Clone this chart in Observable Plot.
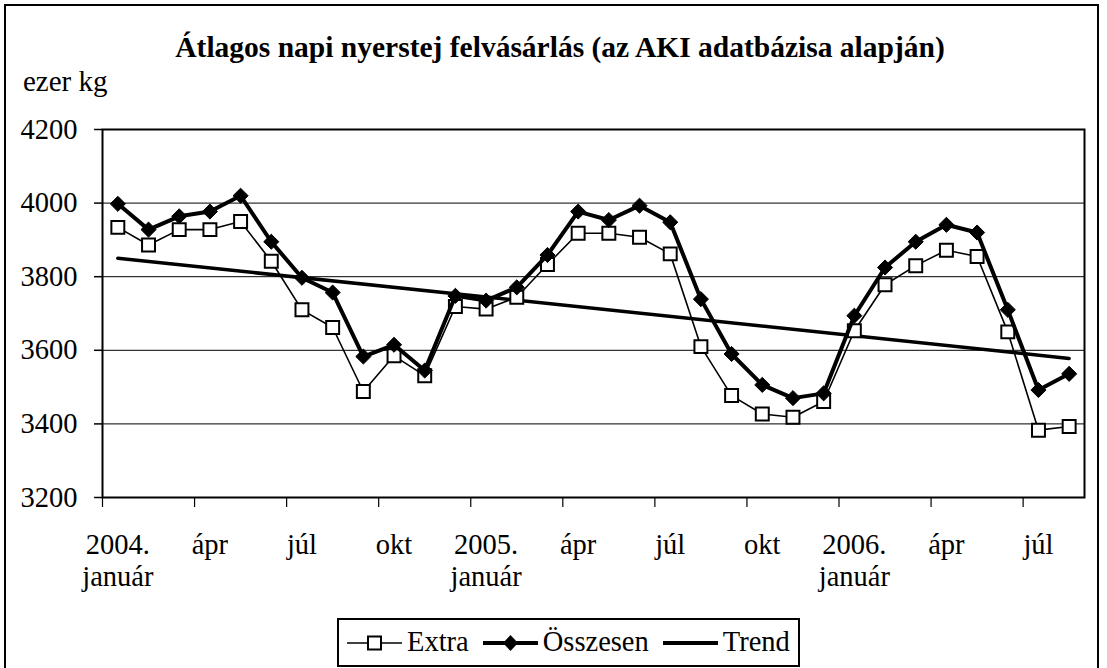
<!DOCTYPE html>
<html>
<head>
<meta charset="utf-8">
<script src="https://cdn.jsdelivr.net/npm/d3@7"></script>
<script src="https://cdn.jsdelivr.net/npm/@observablehq/plot@0.6"></script>
<style>
  html, body { margin: 0; padding: 0; background: #fff; overflow: hidden; }
  #wrap { position: relative; width: 1107px; height: 668px; overflow: hidden;
          font-family: "Liberation Serif", Tinos, "Nimbus Roman", "DejaVu Serif", serif; color: #000; }
  #border { position: absolute; left: 4px; top: 4px; width: 1095px; height: 690px;
            border: 2.5px solid #000; box-sizing: border-box; }
  #title { position: absolute; left: 0; width: 1120px; top: 33px; text-align: center;
           font-weight: bold; font-size: 29.5px; line-height: 1; white-space: nowrap; }
  #unit { position: absolute; left: 23px; top: 67px; font-size: 29px; line-height: 1; }
  #chart { position: absolute; left: 0; top: 0; }
  #legend { position: absolute; left: 337px; top: 618px; height: 49px; box-sizing: border-box;
            border: 2px solid #000; display: flex; align-items: center; padding: 0 8px 0 8px;
            font-size: 28.5px; line-height: 1; background: #fff; }
  #legend .item { display: flex; align-items: center; margin-right: 14px; }
  #legend .item:last-child { margin-right: 0; }
  #legend svg { margin-right: 5px; }
</style>
</head>
<body>
<div id="wrap">
  <div id="border"></div>
  <div id="title">Átlagos napi nyerstej felvásárlás (az AKI adatbázisa alapján)</div>
  <div id="unit">ezer kg</div>
  <div id="chart"></div>
  <div id="legend"></div>
</div>
<script>
// ---- data ----
const months = [
  "2004-01","2004-02","2004-03","2004-04","2004-05","2004-06","2004-07","2004-08",
  "2004-09","2004-10","2004-11","2004-12",
  "2005-01","2005-02","2005-03","2005-04","2005-05","2005-06","2005-07","2005-08",
  "2005-09","2005-10","2005-11","2005-12",
  "2006-01","2006-02","2006-03","2006-04","2006-05","2006-06","2006-07","2006-08"
];
const extra = [3934, 3886, 3928, 3928, 3950, 3842, 3710, 3662, 3488, 3585, 3531, 3719,
               3712, 3744, 3833, 3918, 3918, 3907, 3862, 3610, 3477, 3427, 3418, 3461,
               3653, 3778, 3830, 3872, 3855, 3650, 3383, 3393];
const osszesen = [3998, 3928, 3964, 3977, 4020, 3895, 3797, 3757, 3583, 3615, 3545, 3748,
                  3735, 3771, 3859, 3977, 3954, 3993, 3948, 3739, 3590, 3506, 3470, 3483,
                  3694, 3825, 3895, 3941, 3920, 3710, 3492, 3536];
const trendMonths = ["2004-01", "2006-08"];
const trendValues = [3850, 3578];
const labelMonths = ["2004-01","2004-04","2004-07","2004-10","2005-01","2005-04","2005-07","2005-10","2006-01","2006-04","2006-07"];
const tickLabels = ["2004.\njanuár","ápr","júl","okt","2005.\njanuár","ápr","júl","okt","2006.\njanuár","ápr","júl"];
const yTicks = [3200, 3400, 3600, 3800, 4000, 4200];
const gridLines = [3400, 3600, 3800, 4000];

// ---- tables ----
const idx = m => months.indexOf(m);
const data = months.map((m, i) => ({i, extra: extra[i], osszesen: osszesen[i]}));
const trend = trendMonths.map((m, k) => ({i: idx(m), v: trendValues[k]}));
const labelPos = labelMonths.map(idx);
const labelMap = new Map(labelPos.map((p, k) => [p, tickLabels[k]]));
const boundaryTicks = labelPos.map(p => p - 0.5);

const font = '"Liberation Serif", Tinos, "Nimbus Roman", "DejaVu Serif", serif';

const chart = Plot.plot({
  width: 1107,
  height: 600,
  marginTop: 129,
  marginLeft: 102,
  marginRight: 23,
  marginBottom: 103,
  style: {fontFamily: font, fontSize: "28.5px", color: "#000", background: "transparent", overflow: "visible"},
  x: {domain: [-0.5, months.length - 0.5], axis: null, label: null},
  y: {domain: [3200, 4200], axis: null, label: null},
  marks: [
    Plot.ruleY(gridLines, {stroke: "#000", strokeWidth: 1}),
    Plot.axisY({ticks: yTicks, tickSize: 8, tickPadding: 17, tickFormat: d => String(d), label: null,
                stroke: "#000", strokeWidth: 1.5, fontSize: 28.5, fill: "#000", fontFamily: font}),
    Plot.axisX({ticks: boundaryTicks, tickSize: 10, tickFormat: () => "", label: null, stroke: "#000", strokeWidth: 1.2}),
    Plot.axisX({ticks: labelPos, tickSize: 0, tickPadding: 34, tickFormat: d => labelMap.get(d), label: null,
                lineHeight: 1.12, fontSize: 28.5, fill: "#000", fontFamily: font}),
    Plot.frame({stroke: "#000", strokeWidth: 2}),
    Plot.line(trend, {x: "i", y: "v", stroke: "#000", strokeWidth: 3.5}),
    Plot.line(data, {x: "i", y: "extra", stroke: "#000", strokeWidth: 1.6}),
    Plot.dot(data, {x: "i", y: "extra", symbol: "square", r: 7.3, fill: "#fff", stroke: "#000", strokeWidth: 2}),
    Plot.line(data, {x: "i", y: "osszesen", stroke: "#000", strokeWidth: 4}),
    Plot.dot(data, {x: "i", y: "osszesen", symbol: "diamond2", r: 6.8, fill: "#000", stroke: "#000", strokeWidth: 1})
  ]
});
document.getElementById("chart").appendChild(chart);

// ---- legend ----
const legendItems = [
  {name: "Extra", width: 1.6, marker: "square"},
  {name: "Összesen", width: 4, marker: "diamond"},
  {name: "Trend", width: 4, marker: null}
];
const legend = document.getElementById("legend");
for (const it of legendItems) {
  const div = document.createElement("div");
  div.className = "item";
  let mk = "";
  if (it.marker === "square") mk = '<rect x="21" y="8.5" width="13" height="13" fill="#fff" stroke="#000" stroke-width="2"/>';
  if (it.marker === "diamond") mk = '<path d="M27.5 7 L35 15 L27.5 23 L20 15 Z" fill="#000"/>';
  div.innerHTML = `<svg width="55" height="30"><line x1="0" x2="55" y1="15" y2="15" stroke="#000" stroke-width="${it.width}"/>${mk}</svg><span>${it.name}</span>`;
  legend.appendChild(div);
}
</script>
</body>
</html>
